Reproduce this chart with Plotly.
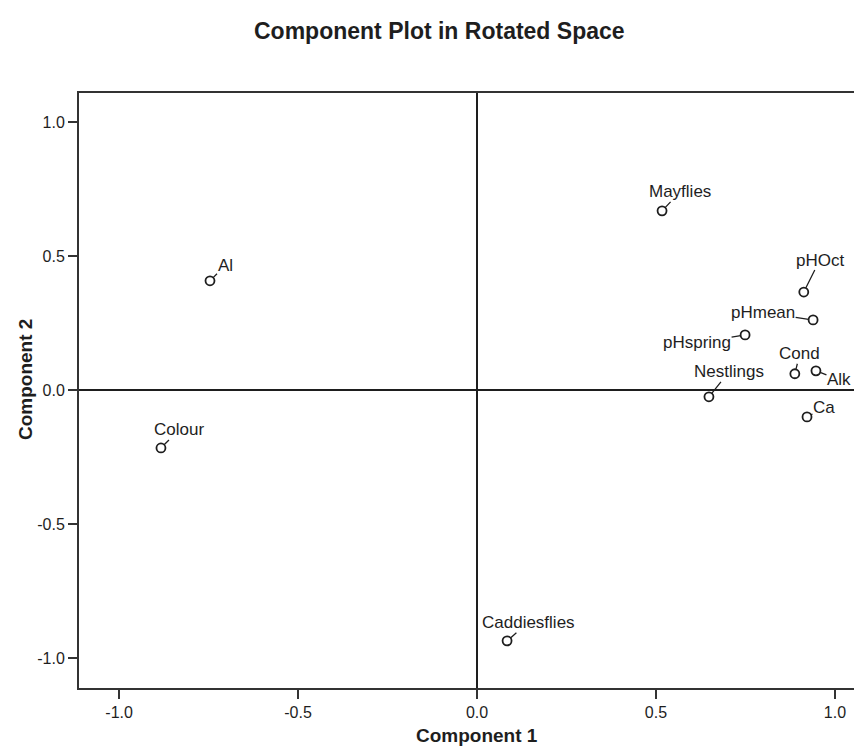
import plotly.graph_objects as go

# Variables and their rotated component loadings
variables = ["Mayflies", "pHOct", "pHmean", "pHspring", "Cond", "Alk",
             "Nestlings", "Ca", "Al", "Colour", "Caddiesflies"]
component1 = [0.517, 0.913, 0.939, 0.749, 0.888, 0.947, 0.648, 0.922, -0.746, -0.883, 0.084]
component2 = [0.670, 0.367, 0.263, 0.207, 0.062, 0.073, -0.024, -0.099, 0.409, -0.215, -0.935]

tick_values = [-1.0, -0.5, 0.0, 0.5, 1.0]
tick_labels = ["-1.0", "-0.5", "0.0", "0.5", "1.0"]

# label offsets (pixels) for the leader-line labels
label_offsets = {
    "Mayflies": (18, -19), "pHOct": (16, -32), "pHmean": (-50, -7),
    "pHspring": (-48, 8), "Cond": (5, -20), "Alk": (23, 9),
    "Nestlings": (20, -25), "Ca": (17, -9), "Al": (15, -15),
    "Colour": (18, -18), "Caddiesflies": (21, -18),
}

FONT = "Liberation Sans, Arial, sans-serif"
INK = "#1e1e1e"

fig = go.Figure()
fig.add_trace(go.Scatter(
    x=component1, y=component2, mode="markers",
    marker=dict(symbol="circle-open", size=9, color=INK, line=dict(width=1.8, color=INK)),
    hoverinfo="text", text=variables, showlegend=False,
))

for name, cx, cy in zip(variables, component1, component2):
    ax, ay = label_offsets[name]
    fig.add_annotation(
        x=cx, y=cy, xref="x", yref="y", text=name,
        showarrow=True, arrowhead=0, arrowwidth=1.3, arrowcolor=INK,
        ax=ax, ay=ay, standoff=4.5, borderpad=0,
        font=dict(family=FONT, size=17, color=INK),
    )

fig.add_annotation(text="<b>Component Plot in Rotated Space</b>", xref="paper", yref="paper",
                   x=(431 - 71) / 791, y=1 + (85 - 23) / 595, showarrow=False,
                   xanchor="center", yanchor="middle",
                   font=dict(family=FONT, size=23, color=INK))
fig.add_annotation(text="<b>Component 1</b>", xref="paper", yref="paper",
                   x=(469 - 71) / 791, y=-(727 - 680) / 595, showarrow=False,
                   xanchor="center", yanchor="middle",
                   font=dict(family=FONT, size=19, color=INK))
fig.add_annotation(text="<b>Component 2</b>", xref="paper", yref="paper",
                   x=-(71 - 18) / 791, y=(680 - 372) / 595, showarrow=False, textangle=-90,
                   xanchor="center", yanchor="middle",
                   font=dict(family=FONT, size=19, color=INK))

axis_common = dict(
    tickvals=tick_values, ticktext=tick_labels, showgrid=False,
    zeroline=True, zerolinecolor=INK, zerolinewidth=2,
    showline=True, linecolor="#333333", linewidth=2,
    ticks="outside", ticklen=9, tickwidth=2, tickcolor="#333333",
    tickfont=dict(family=FONT, size=16, color=INK),
)

fig.update_layout(
    width=862, height=748,
    margin=dict(l=71, r=0, t=85, b=68),
    paper_bgcolor="white", plot_bgcolor="white",
    xaxis=dict(range=[-1.112, 1.098], mirror=True, **axis_common),
    yaxis=dict(range=[-1.111, 1.110], mirror=False, **axis_common),
)

fig.write_html("out.html")
